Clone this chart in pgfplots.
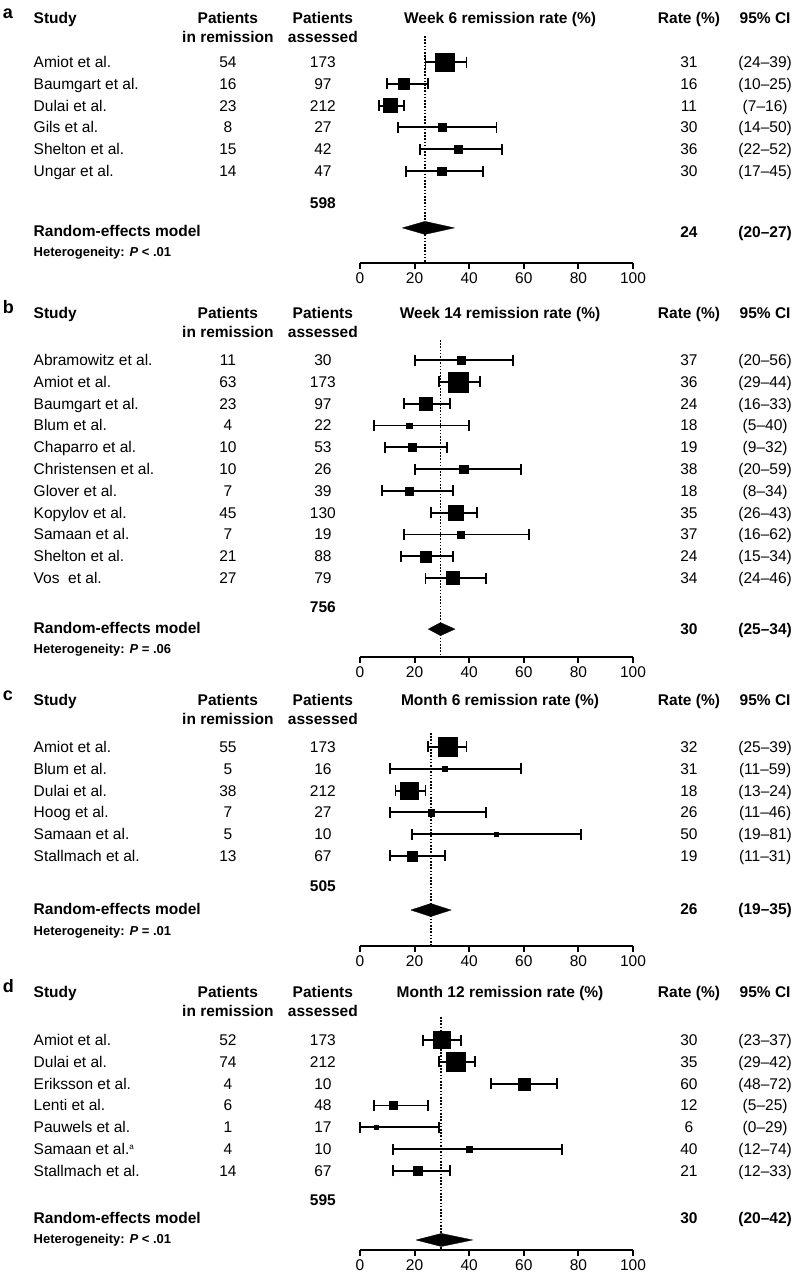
\documentclass[border=0pt]{standalone}
\usepackage{fontspec}
\setmainfont{Liberation Sans}
\usepackage{pgfplots}
\usepackage{pgfplotstable}
\pgfplotsset{compat=1.18}

\newcommand\fs{\fontsize{15.5}{19}\selectfont}
\newcommand\fsb{\fontsize{15.5}{19}\selectfont\bfseries}
\newcommand\fsh{\fontsize{13}{16}\selectfont\bfseries}

% y = row (negative, going down), est/lo/hi = rate and 95% CI, s = half side of square (pt)
\pgfplotstableread[col sep=comma]{
y,study,rem,n,est,lo,hi,s,ci
-1,Amiot et al.,54,173,31,24,39,9.3,(24–39)
-2,Baumgart et al.,16,97,16,10,25,5.6,(10–25)
-3,Dulai et al.,23,212,11,7,16,7.0,(7–16)
-4,Gils et al.,8,27,30,14,50,4.2,(14–50)
-5,Shelton et al.,15,42,36,22,52,4.3,(22–52)
-6,Ungar et al.,14,47,30,17,45,4.3,(17–45)
}\tA
\pgfplotstableread[col sep=comma]{
y,study,rem,n,est,lo,hi,s,ci
-1,Abramowitz et al.,11,30,37,20,56,4.3,(20–56)
-2,Amiot et al.,63,173,36,29,44,10.1,(29–44)
-3,Baumgart et al.,23,97,24,16,33,6.5,(16–33)
-4,Blum et al.,4,22,18,5,40,2.8,(5–40)
-5,Chaparro et al.,10,53,19,9,32,4.2,(9–32)
-6,Christensen et al.,10,26,38,20,59,4.1,(20–59)
-7,Glover et al.,7,39,18,8,34,4.1,(8–34)
-8,Kopylov et al.,45,130,35,26,43,7.8,(26–43)
-9,Samaan et al.,7,19,37,16,62,3.4,(16–62)
-10,Shelton et al.,21,88,24,15,34,5.6,(15–34)
-11,Vos~ et al.,27,79,34,24,46,6.5,(24–46)
}\tB
\pgfplotstableread[col sep=comma]{
y,study,rem,n,est,lo,hi,s,ci
-1,Amiot et al.,55,173,32,25,39,9.5,(25–39)
-2,Blum et al.,5,16,31,11,59,2.7,(11–59)
-3,Dulai et al.,38,212,18,13,24,8.6,(13–24)
-4,Hoog et al.,7,27,26,11,46,3.3,(11–46)
-5,Samaan et al.,5,10,50,19,81,2.1,(19–81)
-6,Stallmach et al.,13,67,19,11,31,5.0,(11–31)
}\tC
\pgfplotstableread[col sep=comma]{
y,study,rem,n,est,lo,hi,s,ci
-1,Amiot et al.,52,173,30,23,37,8.5,(23–37)
-2,Dulai et al.,74,212,35,29,42,9.3,(29–42)
-3,Eriksson et al.,4,10,60,48,72,6.0,(48–72)
-4,Lenti et al.,6,48,12,5,25,4.1,(5–25)
-5,Pauwels et al.,1,17,6,0,29,2.1,(0–29)
-6,Samaan et al.\textsuperscript{\fontsize{8}{8}\selectfont a},4,10,40,12,74,2.8,(12–74)
-7,Stallmach et al.,14,67,21,12,33,4.6,(12–33)
}\tD

\pgfplotsset{
  forest/.style={
    anchor=south west, x=2.73pt, y=21.8pt,
    xmin=0, xmax=100, ymax=1.6,
    axis x line=bottom, axis y line=none,
    axis line style={line width=1.9pt, -},
    xtick={0,20,40,60,80,100}, tick align=outside, major tick length=6pt,
    tick style={line width=1.9pt, black},
    xticklabel style={font=\fs},
    /pgf/number format/assume math mode=true,
    clip=false,
  },
  col/.style={draw=none, mark=none, nodes near coords, point meta=explicit symbolic,
    nodes near coords style={font=\fs, inner sep=0pt, anchor=base, yshift=-5.5pt}},
  colw/.style={col, nodes near coords style={anchor=base west}},
  studies/.style={scatter, only marks, mark=square*, line width=1.9pt,
    mark options={line width=0.3pt},
    scatter/use mapped color={draw=black, fill=black},
    visualization depends on={\thisrow{s} \as \ms},
    scatter/@pre marker code/.append style={/tikz/mark size=\ms},
    error bars/x dir=both, error bars/x explicit,
    error bars/error bar style={line width=1.9pt, black},
    error bars/error mark options={rotate=90, mark size=5.5pt, line width=1.9pt, black}},
  pooled/.style={line width=1.8pt, dash pattern=on 1.6pt off 1.6pt, mark=none},
  diam/.style={fill=black, draw=black, line width=0.3pt, mark=none},
}

\newcommand\panel[1]{%
  \addplot[colw] table[x expr=-119.6, y=y, meta=study] {#1};
  \addplot[col] table[x expr=-48.4, y=y, meta=rem] {#1};
  \addplot[col] table[x expr=-13.6, y=y, meta=n] {#1};
  \addplot[col] table[x expr=120.5, y=y, meta=est] {#1};
  \addplot[col] table[x expr=148.4, y=y, meta=ci] {#1};
  \addplot[studies] table[x=est, y=y,
    x error plus expr=\thisrow{hi}-\thisrow{est},
    x error minus expr=\thisrow{est}-\thisrow{lo}] {#1};
}

\newcommand\heads[4]{%
  \node[font=\fontsize{18}{20}\selectfont\bfseries, inner sep=0pt, anchor=base west, yshift=-0.8pt] at (axis cs:-130.9,#3) {#1};
  \node[font=\fsb, inner sep=0pt, anchor=base west, yshift=-5.5pt] at (axis cs:-119.6,#3) {Study};
  \node[font=\fsb, inner sep=0pt, anchor=base, yshift=-5.5pt] at (axis cs:-48.4,#3) {Patients};
  \node[font=\fsb, inner sep=0pt, anchor=base, yshift=-5.5pt] at (axis cs:-48.4,#4) {in remission};
  \node[font=\fsb, inner sep=0pt, anchor=base, yshift=-5.5pt] at (axis cs:-13.6,#3) {Patients};
  \node[font=\fsb, inner sep=0pt, anchor=base, yshift=-5.5pt] at (axis cs:-13.6,#4) {assessed};
  \node[font=\fsb, inner sep=0pt, anchor=base, yshift=-5.5pt] at (axis cs:51.3,#3) {#2};
  \node[font=\fsb, inner sep=0pt, anchor=base, yshift=-5.5pt] at (axis cs:120.5,#3) {Rate (\%)};
  \node[font=\fsb, inner sep=0pt, anchor=base, yshift=-5.5pt] at (axis cs:148.4,#3) {95\% CI};
}

% #1 total, #2 y total, #3 y model, #4 relation, #5 P, #6 y het, #7 rate, #8 CI, #9 y rate
\newcommand\summ[9]{%
  \node[font=\fsb, inner sep=0pt, anchor=base, yshift=-5.5pt] at (axis cs:-13.6,#2) {#1};
  \node[font=\fsb, inner sep=0pt, anchor=base west, yshift=-5.5pt] at (axis cs:-119.6,#3) {Random-effects model};
  \node[font=\fsh, inner sep=0pt, anchor=base west, yshift=-4.7pt] at (axis cs:-119.6,#6) {Heterogeneity: \textit{P} #4 #5};
  \node[font=\fsb, inner sep=0pt, anchor=base, yshift=-5.5pt] at (axis cs:120.5,#9) {#7};
  \node[font=\fsb, inner sep=0pt, anchor=base, yshift=-5.5pt] at (axis cs:148.4,#9) {#8};
}

\begin{document}
\begin{tikzpicture}
\useasboundingbox (0,0) rectangle (794pt,-1276pt);

\begin{axis}[forest, at={(360pt,-263pt)}, ymin=-10.22]
  \heads{a}{Week 6 remission rate (\%)}{1.02}{0.15}
  \addplot[pooled] coordinates {(23.8,0.19) (23.8,-10.22)};
  \panel{\tA}
  \addplot[diam] coordinates {(15.5,-8.61) (23.8,-8.31) (34.6,-8.61) (23.8,-8.91) (15.5,-8.61)};
  \summ{598}{-7.47}{-8.75}{<}{.01}{-9.72}{24}{(20–27)}{-8.8}
\end{axis}

\begin{axis}[forest, at={(360pt,-657pt)}, ymin=-14.62]
  \heads{b}{Week 14 remission rate (\%)}{1.16}{0.28}
  \addplot[pooled] coordinates {(29.5,-0.08) (29.5,-14.62)};
  \panel{\tB}
  \addplot[diam] coordinates {(25.0,-13.34) (29.5,-13.04) (34.8,-13.34) (29.5,-13.64) (25.0,-13.34)};
  \summ{756}{-12.33}{-13.29}{=}{.06}{-14.26}{30}{(25–34)}{-13.34}
\end{axis}

\begin{axis}[forest, at={(360pt,-946pt)}, ymin=-10.13]
  \heads{c}{Month 6 remission rate (\%)}{1.16}{0.28}
  \addplot[pooled] coordinates {(25.9,-0.36) (25.9,-10.13)};
  \panel{\tC}
  \addplot[diam] coordinates {(18.6,-8.48) (25.9,-8.18) (33.4,-8.48) (25.9,-8.78) (18.6,-8.48)};
  \summ{505}{-7.38}{-8.43}{=}{.01}{-9.44}{26}{(19–35)}{-8.43}
\end{axis}

\begin{axis}[forest, at={(360pt,-1250pt)}, ymin=-10.63]
  \heads{d}{Month 12 remission rate (\%)}{1.2}{0.33}
  \addplot[pooled] coordinates {(29.8,0.06) (29.8,-10.63)};
  \panel{\tD}
  \addplot[diam] coordinates {(20.5,-10.17) (29.8,-9.87) (41.3,-10.17) (29.8,-10.47) (20.5,-10.17)};
  \summ{595}{-8.34}{-9.17}{<}{.01}{-10.13}{30}{(20–42)}{-9.17}
\end{axis}
\end{tikzpicture}
\end{document}
